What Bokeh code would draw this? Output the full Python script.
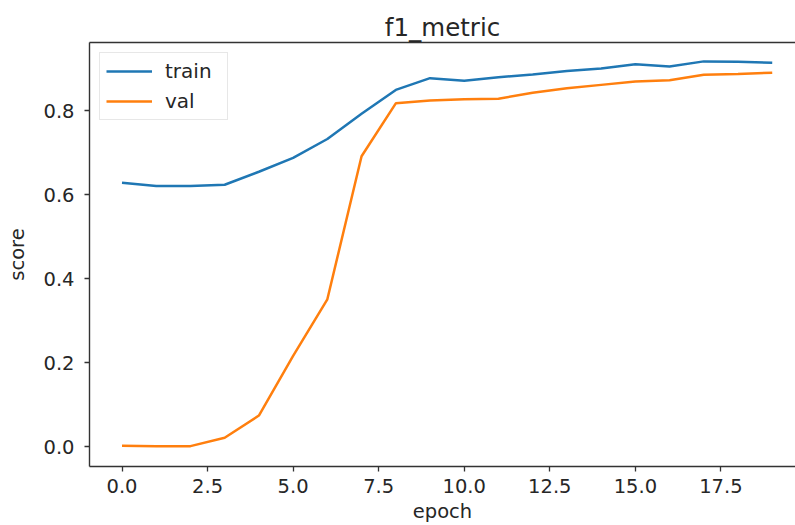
from bokeh.plotting import figure
from bokeh.models import Range1d, FixedTicker, PrintfTickFormatter, LinearAxis, Legend, LegendItem
from bokeh.embed import file_html
from bokeh.resources import INLINE

epoch = list(range(20))
train = [0.629, 0.621, 0.621, 0.624, 0.655, 0.688, 0.733, 0.793, 0.850, 0.878,
         0.872, 0.880, 0.887, 0.895, 0.901, 0.911, 0.906, 0.918, 0.917, 0.915]
val = [0.002, 0.001, 0.001, 0.021, 0.074, 0.216, 0.351, 0.692, 0.818, 0.825,
       0.828, 0.829, 0.843, 0.854, 0.862, 0.870, 0.873, 0.886, 0.888, 0.891]
x_ticks = [0.0, 2.5, 5.0, 7.5, 10.0, 12.5, 15.0, 17.5]
y_ticks = [0.0, 0.2, 0.4, 0.6, 0.8]

FONT = "DejaVu Sans"
TXT = "#262626"
SPINE = "#333333"

p = figure(width=795, height=525, output_backend="svg", toolbar_location=None,
           x_range=Range1d(-0.95, 19.68), y_range=Range1d(-0.0475, 0.963),
           min_border_left=89, min_border_right=0, min_border_top=42, min_border_bottom=59)

p.title.text = "f1_metric"
p.title.align = "center"
p.title.text_font = FONT
p.title.text_font_size = "24.5px"
p.title.text_font_style = "normal"
p.title.text_color = TXT
p.title.standoff = 1

p.background_fill_color = "white"
p.border_fill_color = "white"
p.outline_line_color = None
p.grid.visible = False

for ax, ticks in ((p.xaxis[0], x_ticks), (p.yaxis[0], y_ticks)):
    ax.ticker = FixedTicker(ticks=ticks)
    ax.formatter = PrintfTickFormatter(format="%.1f")
    ax.major_label_text_font = FONT
    ax.major_label_text_font_size = "19.5px"
    ax.major_label_text_color = TXT
    ax.axis_label_text_font = FONT
    ax.axis_label_text_font_size = "19.5px"
    ax.axis_label_text_font_style = "normal"
    ax.axis_label_text_color = TXT
    ax.axis_line_color = SPINE
    ax.axis_line_width = 1.4
    ax.major_tick_line_color = SPINE
    ax.major_tick_line_width = 1.3
    ax.major_tick_out = 5
    ax.major_tick_in = 0
    ax.minor_tick_line_color = None

p.xaxis.axis_label = "epoch"
p.yaxis.axis_label = "score"
p.xaxis.major_label_standoff = 7
p.yaxis.major_label_standoff = 10
p.xaxis.axis_label_standoff = 4
p.yaxis.axis_label_standoff = 11

top = LinearAxis(ticker=FixedTicker(ticks=[]), major_tick_out=0, major_tick_in=0,
                 major_label_standoff=0, minor_tick_line_color=None,
                 axis_line_color=SPINE, axis_line_width=1.4)
p.add_layout(top, "above")

r1 = p.line(epoch, train, line_color="#1f77b4", line_width=2.5)
r2 = p.line(epoch, val, line_color="#ff7f0e", line_width=2.5)

legend = Legend(items=[LegendItem(label="train", renderers=[r1]),
                       LegendItem(label="val", renderers=[r2])],
                location="top_left", margin=10, padding=6, spacing=6,
                glyph_width=46, glyph_height=22, label_height=22, label_width=56,
                label_standoff=13,
                label_text_font=FONT, label_text_font_size="20px", label_text_color=TXT,
                border_line_color="#d0d0d0", border_line_width=1.2,
                background_fill_color="white", background_fill_alpha=0.85)
p.add_layout(legend, "center")

open("out.html", "w").write(file_html(p, INLINE))
